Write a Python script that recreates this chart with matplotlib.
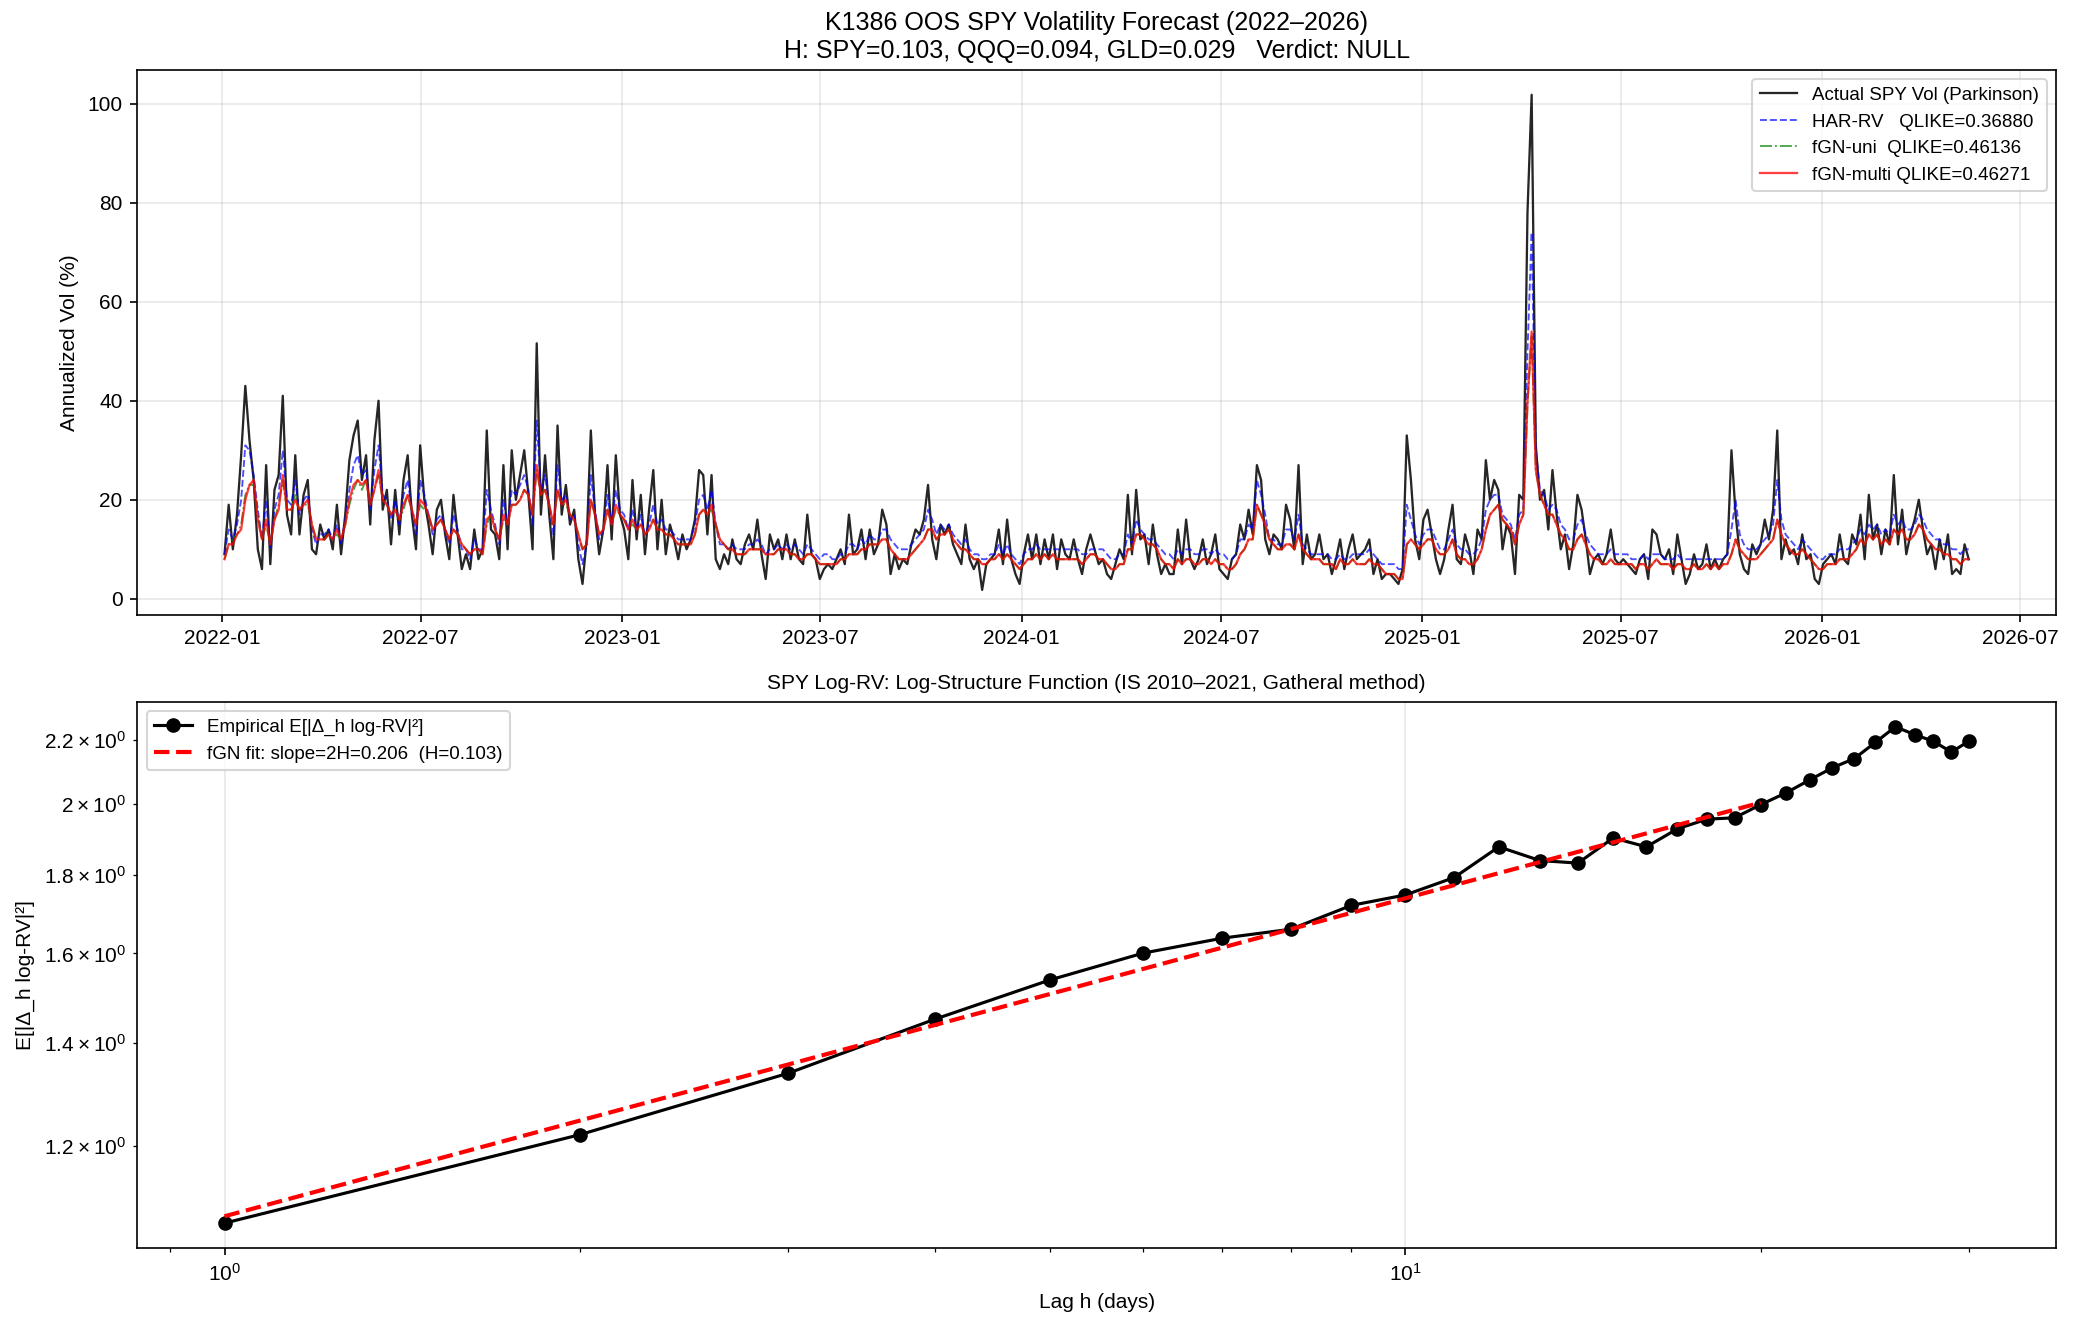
import matplotlib
matplotlib.use('Agg')
import matplotlib.pyplot as plt
import pandas as pd

plt.rcParams['font.family'] = ['Liberation Sans', 'DejaVu Sans']

# ---------------- data: top panel (~8 per month) ----------------
start_date = '2022-01-03'
end_date = '2026-05-15'

actual_vol = [
    9, 19, 10, 17, 29, 43, 32, 24,      # 2022-01
    10, 6, 27, 7, 22, 25, 41, 17,       # 2022-02
    13, 29, 13, 21, 24, 10, 9, 15,      # 2022-03
    12, 14, 10, 19, 9, 17, 28, 33,      # 2022-04
    36, 24, 29, 15, 32, 40, 18, 22,     # 2022-05
    11, 22, 13, 24, 29, 17, 10, 31,     # 2022-06
    20, 15, 9, 18, 20, 13, 8, 21,       # 2022-07
    13, 6, 9, 6, 14, 8, 10, 34,         # 2022-08
    14, 13, 8, 27, 10, 30, 20, 25,      # 2022-09
    30, 21, 10, 51.6, 17, 29, 17, 8,    # 2022-10
    35, 17, 23, 15, 18, 8, 3, 12,       # 2022-11
    34, 17, 9, 14, 27, 12, 29, 17,      # 2022-12
    14, 8, 24, 12, 21, 9, 18, 26,       # 2023-01
    10, 20, 9, 15, 12, 8, 13, 10,       # 2023-02
    12, 16, 26, 25, 13, 25, 8, 6,       # 2023-03
    9, 7, 12, 8, 7, 11, 13, 10,         # 2023-04
    16, 9, 4, 13, 10, 12, 8, 13,        # 2023-05
    8, 12, 8, 7, 17, 9, 8, 4,           # 2023-06
    6, 7, 6, 8, 10, 7, 17, 9,           # 2023-07
    10, 14, 8, 14, 9, 11, 18, 15,       # 2023-08
    5, 9, 6, 8, 7, 11, 14, 13,          # 2023-09
    16, 23, 12, 8, 15, 13, 15, 11,      # 2023-10
    9, 7, 15, 8, 6, 8, 1.8, 7,          # 2023-11
    8, 9, 14, 7, 16, 8, 5, 3,           # 2023-12
    9, 13, 8, 13, 7, 12, 8, 13,         # 2024-01
    6, 12, 9, 8, 12, 8, 5, 10,          # 2024-02
    13, 10, 7, 8, 5, 4, 7, 10,          # 2024-03
    8, 21, 9, 22, 12, 13, 7, 15,        # 2024-04
    9, 5, 7, 5, 5, 14, 7, 16,           # 2024-05
    8, 6, 8, 12, 7, 9, 13, 6,           # 2024-06
    5, 4, 8, 9, 15, 12, 18, 13,         # 2024-07
    27, 24, 12, 9, 13, 12, 10, 19,      # 2024-08
    16, 10, 27, 7, 13, 8, 9, 13,        # 2024-09
    8, 9, 5, 8, 12, 6, 10, 13,          # 2024-10
    8, 9, 10, 12, 5, 8, 4, 5,           # 2024-11
    5, 4, 3, 6, 33, 24, 12, 8,          # 2024-12
    16, 18, 13, 8, 5, 8, 14, 19,        # 2025-01
    8, 7, 13, 10, 5, 14, 12, 28,        # 2025-02
    20, 24, 22, 10, 15, 13, 5, 21,      # 2025-03
    20, 78, 101.8, 31, 20, 22, 14, 26,  # 2025-04
    17, 10, 13, 6, 11, 21, 18, 12,      # 2025-05
    5, 8, 9, 7, 9, 14, 8, 7,            # 2025-06
    8, 7, 6, 5, 8, 9, 4, 14,            # 2025-07
    13, 9, 8, 10, 5, 13, 8, 3,          # 2025-08
    5, 9, 6, 7, 11, 6, 8, 6,            # 2025-09
    8, 9, 30, 17, 9, 6, 5, 11,          # 2025-10
    9, 11, 16, 12, 18, 34, 8, 12,       # 2025-11
    9, 10, 7, 13, 8, 9, 4, 3,           # 2025-12
    7, 8, 9, 7, 13, 8, 7, 13,           # 2026-01
    11, 17, 8, 21, 12, 15, 9, 14,       # 2026-02
    11, 25, 11, 18, 9, 13, 16, 20,      # 2026-03
    14, 9, 11, 6, 12, 8, 13, 5,         # 2026-04
    6, 5, 11, 8,                        # 2026-05
]

har_rv = [
    9, 14, 12, 15, 20, 31, 30, 25,      # 2022-01
    18, 12, 20, 10, 18, 21, 30, 20,
    19, 24, 17, 20, 21, 14, 11, 13,
    13, 14, 12, 15, 11, 16, 22, 27,
    29, 25, 26, 18, 26, 31, 21, 20,
    16, 20, 15, 21, 24, 18, 13, 24,
    21, 17, 13, 16, 17, 14, 11, 17,
    14, 10, 10, 8, 12, 10, 10, 22,
    18, 15, 11, 20, 15, 22, 21, 23,
    25, 22, 15, 36, 22, 25, 19, 13,
    27, 20, 21, 16, 17, 11, 7, 11,
    25, 18, 12, 14, 21, 15, 22, 18,
    17, 14, 18, 14, 17, 13, 15, 19,     # 2023-01
    15, 16, 14, 14, 13, 12, 12, 12,
    12, 15, 20, 21, 18, 22, 15, 11,
    11, 10, 11, 10, 10, 10, 11, 11,
    12, 11, 9, 10, 10, 11, 10, 11,
    10, 11, 10, 9, 11, 10, 9, 8,
    9, 9, 8, 8, 9, 9, 11, 11,
    10, 12, 11, 13, 12, 12, 14, 14,
    12, 11, 10, 10, 10, 11, 12, 13,
    14, 18, 16, 13, 15, 14, 15, 13,
    12, 11, 12, 10, 9, 9, 8, 8,
    9, 9, 11, 9, 11, 9, 8, 7,
    9, 10, 10, 11, 10, 10, 10, 10,     # 2024-01
    10, 10, 10, 10, 10, 10, 9, 9,
    10, 10, 10, 10, 9, 8, 8, 9,
    9, 13, 11, 16, 14, 13, 12, 12,
    11, 10, 9, 9, 8, 10, 9, 10,
    10, 9, 9, 10, 10, 9, 10, 9,
    9, 8, 8, 9, 12, 12, 15, 14,
    24, 21, 17, 12, 12, 11, 11, 14,
    14, 12, 17, 11, 10, 9, 9, 9,
    9, 9, 8, 8, 9, 8, 8, 9,
    9, 9, 9, 10, 9, 8, 7, 7,
    7, 7, 6, 6, 19, 16, 13, 11,
    13, 14, 14, 12, 10, 10, 12, 14,     # 2025-01
    11, 10, 10, 9, 9, 10, 12, 18,
    20, 21, 21, 17, 16, 15, 12, 17,
    18, 50, 74, 30, 22, 21, 18, 19,
    18, 15, 14, 12, 12, 15, 16, 13,
    11, 10, 9, 9, 9, 10, 9, 9,
    9, 9, 8, 8, 8, 9, 8, 9,
    9, 9, 8, 8, 8, 9, 8, 8,
    8, 8, 8, 8, 8, 8, 8, 8,
    8, 9, 14, 20, 13, 11, 10, 10,
    10, 11, 12, 13, 15, 24, 16, 13,
    12, 11, 10, 12, 11, 10, 9, 8,
    8, 9, 9, 9, 10, 10, 10, 11,         # 2026-01
    12, 14, 13, 15, 14, 15, 13, 14,
    13, 17, 15, 16, 14, 14, 15, 17,
    16, 14, 13, 12, 12, 11, 11, 10,
    10, 9, 10, 10,
]

fgn_uni = [
    8, 11, 12, 13, 15, 21, 23, 23,      # 2022-01
    17, 12, 15, 11, 16, 19, 24, 18,
    18, 21, 18, 19, 19, 15, 12, 12,
    12, 13, 12, 13, 12, 15, 19, 22,
    24, 22, 24, 19, 22, 25, 20, 19,
    17, 18, 16, 18, 21, 18, 15, 19,
    18, 17, 14, 15, 16, 14, 12, 14,
    13, 11, 10, 9, 10, 10, 9, 15,
    17, 14, 12, 16, 15, 19, 19, 20,
    22, 21, 17, 26, 21, 22, 19, 15,
    22, 19, 19, 17, 16, 13, 10, 11,
    20, 17, 13, 14, 18, 15, 18, 17,
    16, 14, 15, 14, 15, 13, 14, 16,     # 2023-01
    14, 14, 13, 13, 12, 11, 11, 11,
    11, 13, 17, 18, 17, 18, 15, 12,
    11, 10, 10, 9, 9, 9, 10, 10,
    10, 10, 9, 9, 9, 10, 10, 10,
    9, 9, 8, 8, 9, 9, 8, 7,
    7, 7, 7, 7, 8, 8, 9, 9,
    9, 10, 10, 11, 11, 11, 12, 12,
    10, 9, 8, 8, 8, 9, 10, 11,
    12, 14, 14, 12, 13, 13, 14, 12,
    11, 10, 10, 9, 8, 8, 7, 7,
    8, 8, 9, 8, 9, 8, 7, 6,
    7, 8, 8, 9, 8, 9, 8, 9,             # 2024-01
    8, 8, 8, 8, 8, 8, 7, 8,
    9, 9, 8, 8, 7, 6, 6, 7,
    7, 10, 10, 13, 13, 12, 11, 11,
    10, 8, 7, 7, 6, 8, 7, 8,
    8, 7, 7, 8, 8, 7, 8, 7,
    7, 6, 6, 7, 9, 10, 12, 12,
    19, 17, 15, 12, 11, 10, 10, 11,
    11, 10, 13, 10, 9, 8, 8, 8,
    7, 7, 7, 6, 8, 7, 7, 8,
    7, 7, 7, 8, 7, 7, 6, 5,
    5, 5, 4, 4, 11, 12, 11, 10,
    11, 12, 12, 10, 9, 9, 10, 12,       # 2025-01
    9, 8, 8, 7, 7, 8, 10, 14,
    17, 18, 19, 16, 15, 14, 11, 15,
    17, 39, 53, 26, 21, 19, 17, 17,
    15, 13, 12, 10, 10, 12, 13, 11,
    9, 8, 8, 7, 7, 8, 7, 7,
    7, 7, 7, 6, 7, 7, 6, 7,
    8, 7, 7, 7, 6, 7, 7, 6,
    6, 7, 6, 6, 7, 6, 7, 6,
    7, 7, 9, 12, 10, 9, 8, 8,
    8, 9, 10, 11, 12, 16, 13, 11,
    10, 9, 9, 10, 9, 8, 7, 6,
    6, 7, 7, 7, 8, 8, 8, 9,             # 2026-01
    10, 12, 11, 13, 12, 13, 11, 12,
    11, 14, 13, 14, 12, 12, 13, 15,
    14, 12, 11, 10, 10, 9, 9, 8,
    8, 7, 8, 8,
]

fgn_multi = [
    8, 11, 11, 13, 14, 20, 23, 24,      # 2022-01
    16, 12, 16, 11, 16, 18, 25, 18,
    18, 20, 18, 19, 20, 15, 12, 12,
    12, 13, 12, 14, 12, 15, 20, 23,
    24, 23, 24, 19, 22, 26, 20, 19,
    17, 18, 16, 19, 21, 18, 15, 20,
    19, 17, 14, 15, 16, 14, 12, 14,
    13, 11, 10, 9, 10, 10, 9, 16,
    17, 14, 12, 17, 15, 19, 19, 20,
    22, 21, 17, 27, 21, 22, 19, 15,
    22, 19, 20, 17, 16, 13, 10, 11,
    20, 17, 13, 14, 18, 15, 19, 17,
    16, 14, 16, 14, 15, 13, 14, 16,     # 2023-01
    14, 14, 13, 13, 12, 11, 11, 11,
    11, 13, 17, 18, 17, 19, 15, 12,
    11, 10, 10, 9, 9, 9, 10, 10,
    10, 10, 9, 9, 9, 10, 10, 10,
    9, 9, 8, 8, 9, 9, 8, 7,
    7, 7, 7, 7, 8, 8, 9, 9,
    9, 10, 10, 11, 11, 11, 12, 12,
    10, 9, 8, 8, 8, 9, 10, 11,
    12, 14, 14, 12, 13, 13, 14, 12,
    11, 10, 10, 9, 8, 8, 7, 7,
    8, 8, 9, 8, 9, 8, 7, 6,
    7, 8, 8, 9, 8, 9, 8, 9,             # 2024-01
    8, 8, 8, 8, 8, 8, 7, 8,
    9, 9, 8, 8, 7, 6, 6, 7,
    7, 10, 10, 13, 13, 12, 11, 11,
    10, 8, 7, 7, 6, 8, 7, 8,
    8, 7, 7, 8, 8, 7, 8, 7,
    7, 6, 6, 7, 9, 10, 12, 12,
    19, 17, 15, 12, 11, 10, 10, 11,
    11, 10, 13, 10, 9, 8, 8, 8,
    7, 7, 7, 6, 8, 7, 7, 8,
    7, 7, 7, 8, 7, 7, 6, 5,
    5, 5, 4, 4, 11, 12, 11, 10,
    11, 12, 12, 10, 9, 9, 10, 12,       # 2025-01
    9, 8, 8, 7, 7, 8, 10, 14,
    17, 18, 19, 16, 15, 14, 11, 15,
    17, 40, 54, 26, 21, 19, 17, 17,
    15, 13, 12, 10, 10, 12, 13, 11,
    9, 8, 8, 7, 7, 8, 7, 7,
    7, 7, 7, 6, 7, 7, 6, 7,
    8, 7, 7, 7, 6, 7, 7, 6,
    6, 7, 6, 6, 7, 6, 7, 6,
    7, 7, 9, 12, 10, 9, 8, 8,
    8, 9, 10, 11, 12, 16, 13, 11,
    10, 9, 9, 10, 9, 8, 7, 6,
    6, 7, 7, 7, 8, 8, 8, 9,             # 2026-01
    10, 12, 11, 13, 12, 13, 11, 12,
    11, 14, 13, 14, 12, 12, 13, 15,
    14, 12, 11, 10, 10, 9, 9, 8,
    8, 7, 8, 8,
]

# ---------------- data: bottom panel ----------------
lags = [1, 2, 3, 4, 5, 6, 7, 8, 9, 10, 11, 12, 13, 14, 15,
        16, 17, 18, 19, 20, 21, 22, 23, 24, 25, 26, 27, 28, 29, 30]
empirical_sf = [1.070, 1.221, 1.338, 1.451, 1.538, 1.601, 1.637, 1.659, 1.719, 1.746,
                1.792, 1.876, 1.838, 1.831, 1.901, 1.876, 1.927, 1.955, 1.959, 1.998,
                2.033, 2.073, 2.111, 2.140, 2.192, 2.244, 2.218, 2.196, 2.161, 2.196]
fit_lags = [1, 20]
fit_sf = [1.081, 2.004]

# ---------------- figure ----------------
fig = plt.figure(figsize=(2074 / 150, 1331 / 150), dpi=150)
ax1 = fig.add_axes([0.0662, 0.5382, 0.9251, 0.4092])
ax2 = fig.add_axes([0.0662, 0.0624, 0.9251, 0.4102])

d_act = pd.date_range(start_date, end_date, periods=len(actual_vol))
d_har = pd.date_range(start_date, end_date, periods=len(har_rv))
d_uni = pd.date_range(start_date, end_date, periods=len(fgn_uni))
d_mul = pd.date_range(start_date, end_date, periods=len(fgn_multi))

ax1.plot(d_act, actual_vol, color='k', lw=1.1, alpha=0.85, label='Actual SPY Vol (Parkinson)')
ax1.plot(d_har, har_rv, color='b', ls='--', lw=0.9, alpha=0.7, label='HAR-RV   QLIKE=0.36880')
ax1.plot(d_uni, fgn_uni, color='g', ls='-.', lw=0.9, alpha=0.7, label='fGN-uni  QLIKE=0.46136')
ax1.plot(d_mul, fgn_multi, color='r', lw=1.1, alpha=0.75, label='fGN-multi QLIKE=0.46271')
ax1.set_ylabel('Annualized Vol (%)')
ax1.set_title('K1386 OOS SPY Volatility Forecast (2022\u20132026)\n'
              'H: SPY=0.103, QQQ=0.094, GLD=0.029   Verdict: NULL', fontsize=12)
ax1.legend(loc='upper right', fontsize=9)
ax1.grid(True, alpha=0.3)

ax2.loglog(lags, empirical_sf, 'ko-', ms=6, lw=1.5, label='Empirical E[|\u0394_h log-RV|\u00b2]')
ax2.loglog(fit_lags, fit_sf, 'r--', lw=2, label='fGN fit: slope=2H=0.206  (H=0.103)')
ax2.set_xlabel('Lag h (days)')
ax2.set_ylabel('E[|\u0394_h log-RV|\u00b2]')
ax2.set_title('SPY Log-RV: Log-Structure Function (IS 2010\u20132021, Gatheral method)', fontsize=10)
ax2.legend(loc='upper left', fontsize=9)
ax2.grid(True, alpha=0.3)

fig.savefig('out.png', dpi=150)
